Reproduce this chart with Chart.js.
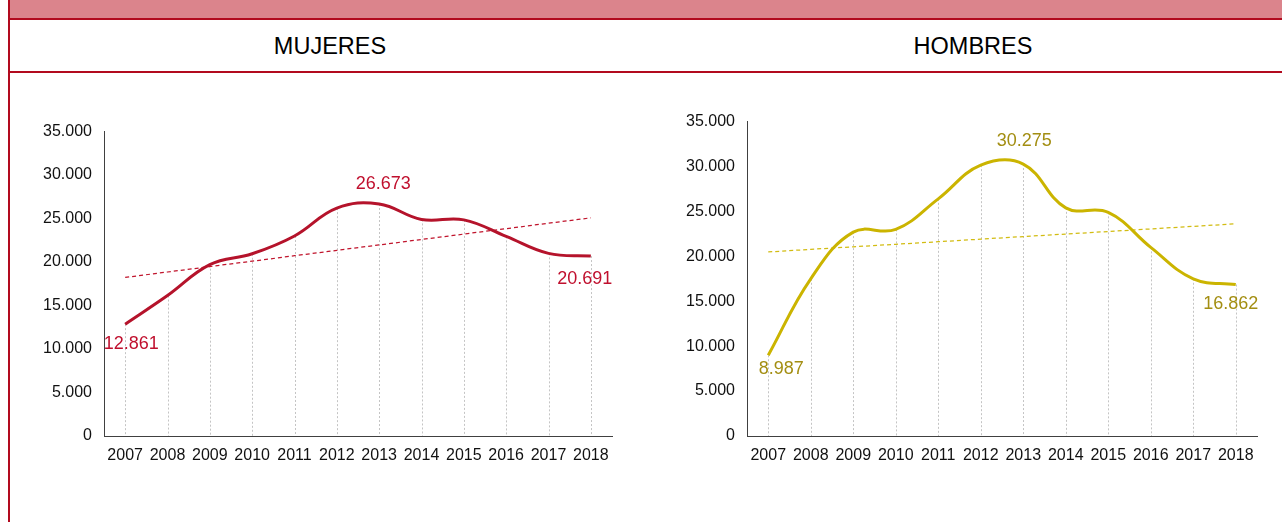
<!DOCTYPE html>
<html>
<head>
<meta charset="utf-8">
<script src="https://cdn.jsdelivr.net/npm/chart.js@4.4.1/dist/chart.umd.min.js"></script>
<style>
  html, body { margin: 0; padding: 0; background: #ffffff; }
  body { width: 1282px; height: 522px; position: relative; overflow: hidden; font-family: 'Liberation Sans', Arial, sans-serif; }
  #band { position: absolute; left: 9px; top: 0; width: 1273px; height: 18px; background: #db848c; }
  #line1 { position: absolute; left: 9px; top: 18px; width: 1273px; height: 2px; background: #b20a1e; }
  #line2 { position: absolute; left: 9px; top: 71px; width: 1273px; height: 2px; background: #b20a1e; }
  #vline { position: absolute; left: 8px; top: 0; width: 2px; height: 522px; background: #b20a1e; }
  .hdr { position: absolute; top: 33px; font-size: 23.5px; color: #000; text-align: center; width: 300px; line-height: 27px; }
  #h1 { left: 180px; }
  #h2 { left: 823px; }
  canvas { position: absolute; }
  #c1 { left: 10px; top: 110px; }
  #c2 { left: 650px; top: 100px; }
</style>
</head>
<body>
<div id="band"></div>
<div id="line1"></div>
<div id="line2"></div>
<div id="vline"></div>
<div class="hdr" id="h1">MUJERES</div>
<div class="hdr" id="h2">HOMBRES</div>
<canvas id="c1" width="630" height="360"></canvas>
<canvas id="c2" width="630" height="370"></canvas>
<script>
// ---- data ----
const years = ['2007','2008','2009','2010','2011','2012','2013','2014','2015','2016','2017','2018'];
const mujeres = [12861, 16150, 19700, 20950, 23000, 26200, 26673, 24900, 24850, 22950, 21000, 20691];
const hombres = [8987, 17500, 22700, 23000, 26400, 30150, 30275, 25400, 24900, 21000, 17500, 16862];
const yMin = 0;
const yMax = 35000;
const yStep = 5000;

// ---- helpers ----
const FONT = "'Liberation Sans', Arial, sans-serif";
function fmt(v) { return String(Math.round(v)).replace(/\B(?=(\d{3})+(?!\d))/g, '.'); }
function trend(vals) {
  const n = vals.length;
  let sx = 0, sy = 0, sxy = 0, sxx = 0;
  vals.forEach((y, x) => { sx += x; sy += y; sxy += x * y; sxx += x * x; });
  const b = (n * sxy - sx * sy) / (n * sxx - sx * sx);
  const a = (sy - b * sx) / n;
  return vals.map((_, x) => a + b * x);
}

const dropLines = {
  id: 'dropLines',
  beforeDatasetsDraw(chart) {
    const meta = chart.getDatasetMeta(0);
    const ctx = chart.ctx;
    const bottom = chart.scales.y.getPixelForValue(0);
    ctx.save();
    ctx.strokeStyle = '#c4c4c4';
    ctx.lineWidth = 1;
    ctx.setLineDash([2, 2]);
    meta.data.forEach(pt => {
      const x = Math.round(pt.x) + 0.5;
      ctx.beginPath();
      ctx.moveTo(x, pt.y);
      ctx.lineTo(x, bottom);
      ctx.stroke();
    });
    ctx.restore();
  }
};

const valueLabels = {
  id: 'valueLabels',
  afterDatasetsDraw(chart, args, opts) {
    const meta = chart.getDatasetMeta(0);
    const vals = chart.data.datasets[0].data;
    const ctx = chart.ctx;
    let maxI = 0;
    vals.forEach((v, i) => { if (v > vals[maxI]) maxI = i; });
    const picks = [[0, opts.first], [maxI, opts.max], [vals.length - 1, opts.last]];
    ctx.save();
    ctx.font = opts.size + 'px ' + FONT;
    ctx.fillStyle = opts.color;
    ctx.textAlign = 'center';
    ctx.textBaseline = 'middle';
    picks.forEach(([i, off]) => {
      const pt = meta.data[i];
      ctx.fillText(fmt(vals[i]), pt.x + off[0], pt.y + off[1]);
    });
    ctx.restore();
  }
};

function makeChart(id, vals, lineColor, trendColor, labelColor, geo, labelOffsets) {
  return new Chart(document.getElementById(id), {
    type: 'line',
    data: {
      labels: years,
      datasets: [
        {
          data: vals,
          borderColor: lineColor,
          borderWidth: 3,
          pointRadius: 0,
          tension: 0.4,
          fill: false,
          order: 1
        },
        {
          data: trend(vals),
          borderColor: trendColor,
          borderWidth: 1.25,
          borderDash: [4, 3],
          pointRadius: 0,
          tension: 0,
          fill: false,
          order: 2
        }
      ]
    },
    options: {
      responsive: false,
      animation: false,
      devicePixelRatio: 1,
      layout: { padding: { top: geo.top, right: geo.right, left: 0, bottom: 0 } },
      plugins: {
        legend: { display: false },
        tooltip: { enabled: false },
        valueLabels: Object.assign({ color: labelColor, size: 18 }, labelOffsets)
      },
      scales: {
        x: {
          offset: true,
          grid: { display: false, drawTicks: false },
          border: { display: true, color: '#404040', width: 1 },
          ticks: { color: '#111111', padding: 10, font: { family: FONT, size: 16 }, maxRotation: 0, autoSkip: false },
          afterFit(s) { s.height = geo.xh; }
        },
        y: {
          min: yMin,
          max: yMax,
          grid: { display: false, drawTicks: false },
          border: { display: true, color: '#404040', width: 1 },
          ticks: { stepSize: yStep, color: '#111111', padding: 12, font: { family: FONT, size: 16 }, callback: v => fmt(v) },
          afterFit(s) { s.width = geo.yw; }
        }
      }
    },
    plugins: [dropLines, valueLabels]
  });
}

makeChart('c1', mujeres, '#b5132b', '#c0142c', '#c0102e',
  { top: 19, right: 28, yw: 94, xh: 34 },
  { first: [6, 20], max: [4, -20], last: [-6, 23] });

makeChart('c2', hombres, '#cbb400', '#d2bc12', '#a38e12',
  { top: 17, right: 23, yw: 97, xh: 34 },
  { first: [13, 14], max: [1, -23], last: [-5, 20] });
</script>
</body>
</html>
